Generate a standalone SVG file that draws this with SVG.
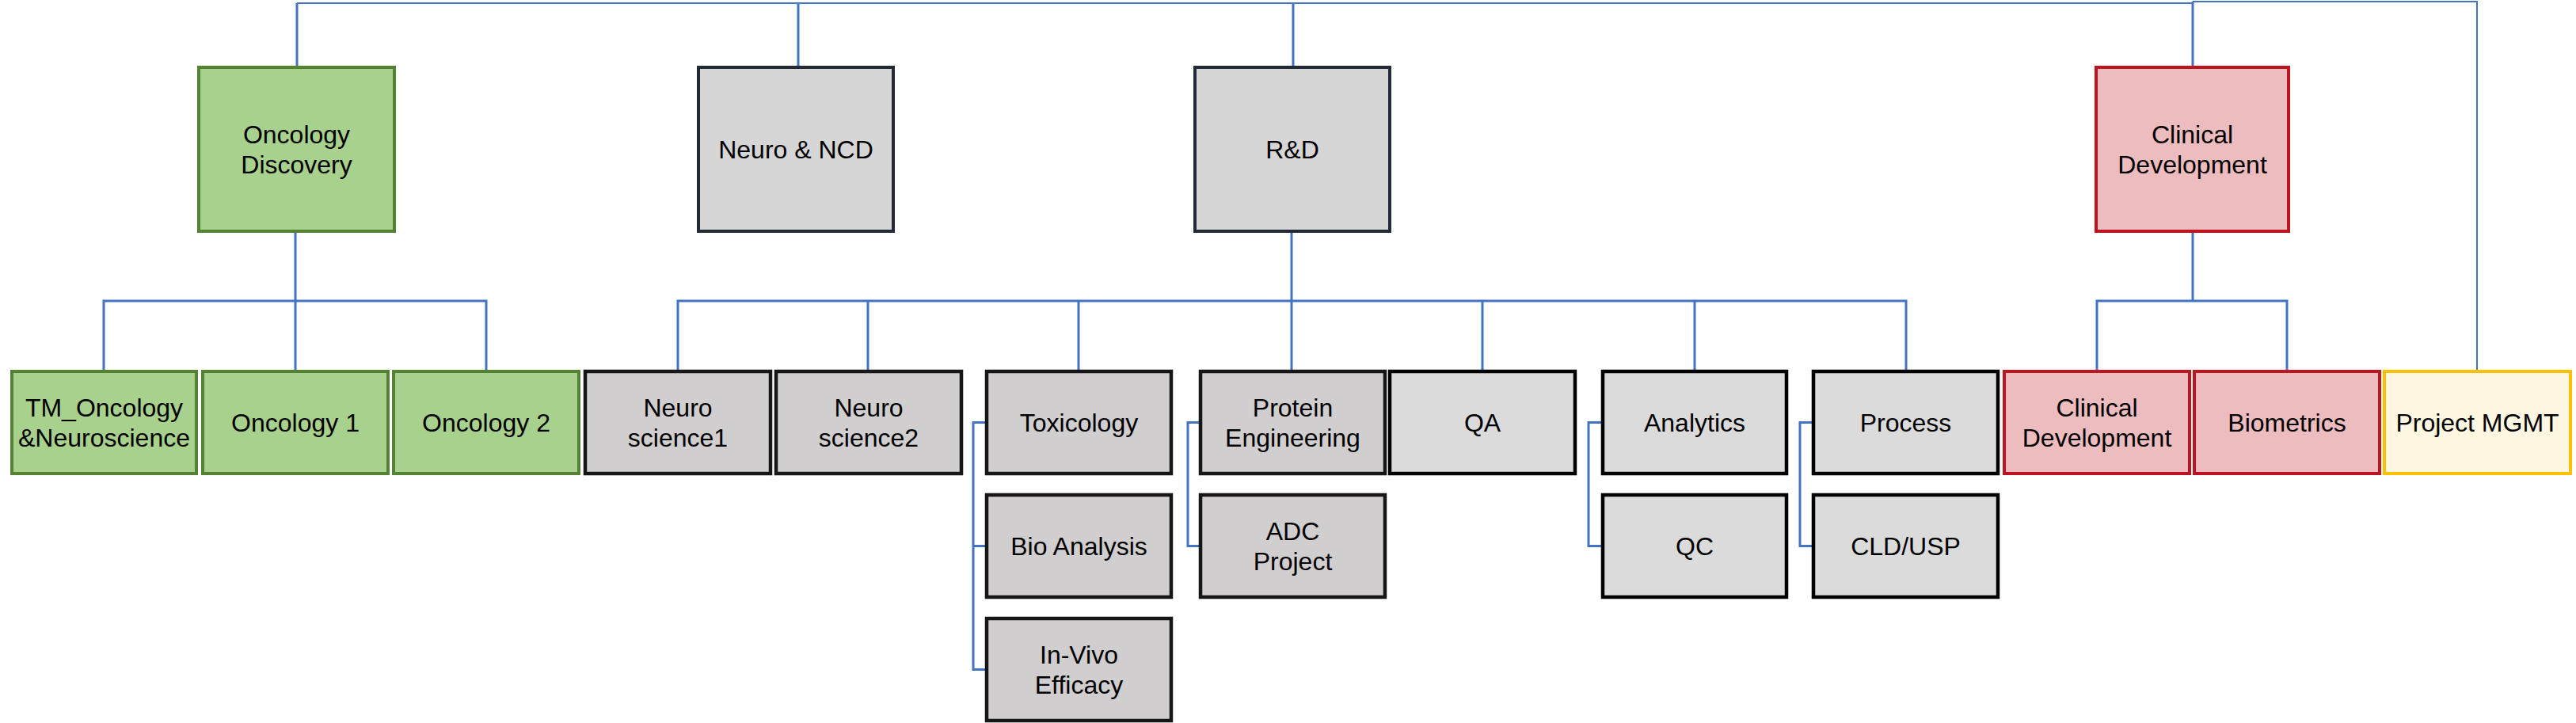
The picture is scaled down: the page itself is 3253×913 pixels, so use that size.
<svg xmlns="http://www.w3.org/2000/svg" width="3253" height="913" viewBox="0 0 3253 913">
<style>
text{font-family:"Liberation Sans",Arial,sans-serif;font-size:32px;fill:#000;text-anchor:middle}
.green{fill:#A9D18E;stroke:#548235;stroke-width:4}
.top{fill:#D6D6D6;stroke:#222A35;stroke-width:4}
.gray{fill:#D0CECE;stroke:#161616;stroke-width:4.5}
.lgray{fill:#DBDBDB;stroke:#000;stroke-width:4.5}
.red{fill:#EDBCBE;stroke:#BE1420;stroke-width:4}
.yel{fill:#FFF7E1;stroke:#FFC000;stroke-width:4}
.c{fill:none;stroke:#4472C4;stroke-width:3}
.t{fill:none;stroke:#4472C4;stroke-width:2}
</style>
<rect width="3253" height="913" fill="#fff"/>
<g id="connectors">
<path class="t" d="M375 4H2769"/>
<path class="c" d="M375 4V83M1008 4V83M1633 4V83"/>
<path class="c" stroke-width="4" d="M2769 2V83"/>
<path class="t" d="M2769 2H3128V467"/>
<path class="c" d="M373 294V380M131 467V380H614V467M373 380V467"/>
<path class="c" d="M1631 294V467M856 467V380H2407V467M1096 380V467M1362 380V467M1872 380V467M2140 380V467"/>
<path class="c" d="M2769 294V380M2648 467V380H2888V467"/>
<path class="c" d="M1246 533.5H1229V845.5H1246M1229 689.5H1246"/>
<path class="c" d="M1516 533.5H1500V689.5H1516"/>
<path class="c" d="M2024 533.5H2006V689.5H2024"/>
<path class="c" d="M2290 533.5H2273V689.5H2290"/>
</g>
<g id="n-oncology-discovery"><rect class="green" x="251" y="85" width="247" height="207"/><text x="374.5" y="181">Oncology</text><text x="374.5" y="219">Discovery</text></g>
<g id="n-neuro-ncd"><rect class="top" x="882" y="85" width="246" height="207"/><text x="1005" y="199.5">Neuro &amp; NCD</text></g>
<g id="n-rd"><rect class="top" x="1509" y="85" width="246" height="207"/><text x="1632" y="199.5">R&amp;D</text></g>
<g id="n-clinical-top"><rect class="red" x="2647" y="85" width="243" height="207"/><text x="2768.5" y="181">Clinical</text><text x="2768.5" y="219">Development</text></g>

<g id="n-tm"><rect class="green" x="15" y="469" width="233" height="129"/><text x="131.5" y="526">TM_Oncology</text><text x="131.5" y="564">&amp;Neuroscience</text></g>
<g id="n-onc1"><rect class="green" x="256" y="469" width="234" height="129"/><text x="373" y="544.5">Oncology 1</text></g>
<g id="n-onc2"><rect class="green" x="497" y="469" width="234" height="129"/><text x="614" y="544.5">Oncology 2</text></g>
<g id="n-ns1"><rect class="gray" x="739" y="469" width="234" height="129"/><text x="856" y="526">Neuro</text><text x="856" y="564">science1</text></g>
<g id="n-ns2"><rect class="gray" x="980" y="469" width="234" height="129"/><text x="1097" y="526">Neuro</text><text x="1097" y="564">science2</text></g>
<g id="n-tox"><rect class="gray" x="1246" y="469" width="233" height="129"/><text x="1362.5" y="544.5">Toxicology</text></g>
<g id="n-bio"><rect class="gray" x="1246" y="625" width="233" height="129"/><text x="1362.5" y="700.5">Bio Analysis</text></g>
<g id="n-invivo"><rect class="gray" x="1246" y="781" width="233" height="129"/><text x="1362.5" y="838">In-Vivo</text><text x="1362.5" y="876">Efficacy</text></g>
<g id="n-protein"><rect class="gray" x="1516" y="469" width="233" height="129"/><text x="1632.5" y="526">Protein</text><text x="1632.5" y="564">Engineering</text></g>
<g id="n-adc"><rect class="gray" x="1516" y="625" width="233" height="129"/><text x="1632.5" y="682">ADC</text><text x="1632.5" y="720">Project</text></g>
<g id="n-qa"><rect class="lgray" x="1755" y="469" width="234" height="129"/><text x="1872" y="544.5">QA</text></g>
<g id="n-analytics"><rect class="lgray" x="2024" y="469" width="232" height="129"/><text x="2140" y="544.5">Analytics</text></g>
<g id="n-qc"><rect class="lgray" x="2024" y="625" width="232" height="129"/><text x="2140" y="700.5">QC</text></g>
<g id="n-process"><rect class="lgray" x="2290" y="469" width="233" height="129"/><text x="2406.5" y="544.5">Process</text></g>
<g id="n-cld"><rect class="lgray" x="2290" y="625" width="233" height="129"/><text x="2406.5" y="700.5">CLD/USP</text></g>
<g id="n-clinical"><rect class="red" x="2531" y="469" width="234" height="129"/><text x="2648" y="526">Clinical</text><text x="2648" y="564">Development</text></g>
<g id="n-biometrics"><rect class="red" x="2771" y="469" width="234" height="129"/><text x="2888" y="544.5">Biometrics</text></g>
<g id="n-pm"><rect class="yel" x="3011" y="469" width="235" height="129"/><text x="3128.5" y="544.5">Project MGMT</text></g>
</svg>
